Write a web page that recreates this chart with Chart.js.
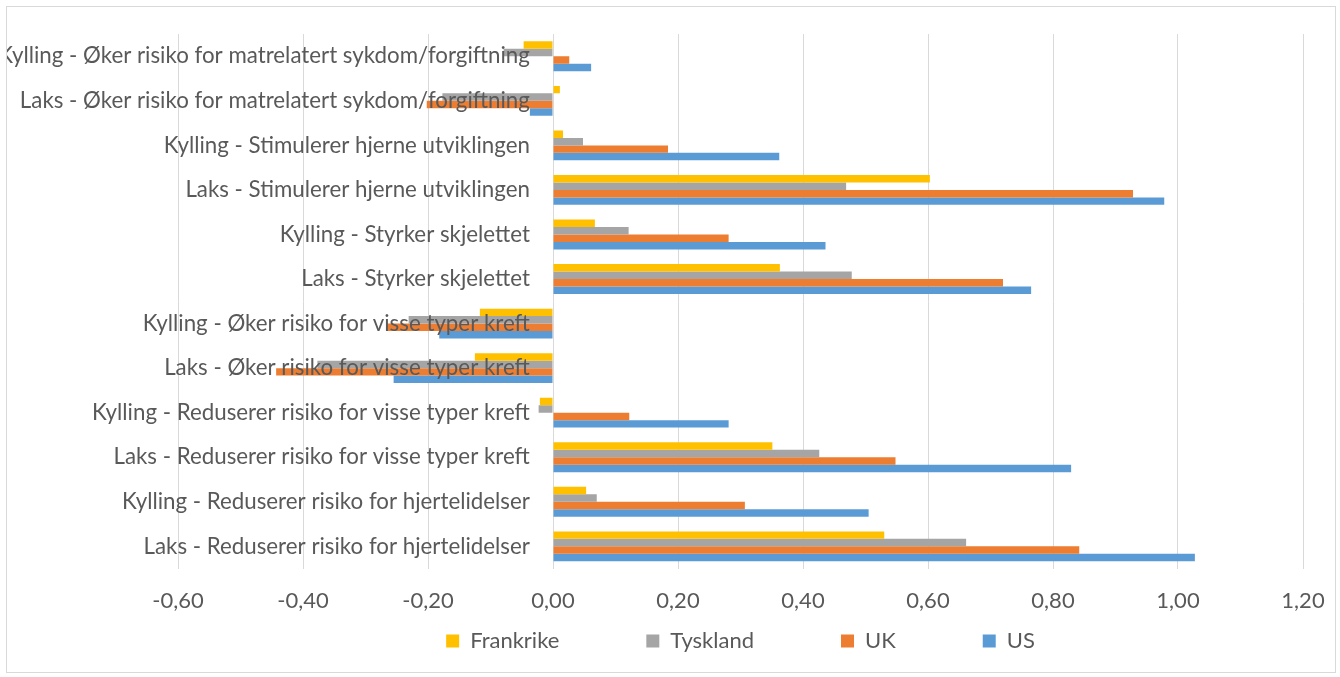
<!DOCTYPE html>
<html lang="no">
<head>
<meta charset="utf-8">
<title>Laks og kylling - helseeffekter</title>
<script src="https://cdn.jsdelivr.net/npm/chart.js@4.4.1/dist/chart.umd.min.js"></script>
<style>
  html, body { margin: 0; padding: 0; background: #fff; }
  #wrap { position: absolute; left: 6px; top: 6px; width: 1328px; height: 665px; border: 1px solid #d9d9d9; }
</style>
</head>
<body>
<div id="wrap"><canvas id="bar-chart" width="1328" height="665"></canvas></div>
<script>
// categories listed top to bottom, as they appear in the chart
var categories = [
  "Kylling - Øker risiko for matrelatert sykdom/forgiftning",
  "Laks - Øker risiko for matrelatert sykdom/forgiftning",
  "Kylling - Stimulerer hjerne utviklingen",
  "Laks - Stimulerer hjerne utviklingen",
  "Kylling - Styrker skjelettet",
  "Laks - Styrker skjelettet",
  "Kylling - Øker risiko for visse typer kreft",
  "Laks - Øker risiko for visse typer kreft",
  "Kylling - Reduserer risiko for visse typer kreft",
  "Laks - Reduserer risiko for visse typer kreft",
  "Kylling - Reduserer risiko for hjertelidelser",
  "Laks - Reduserer risiko for hjertelidelser"
];
var frankrike = [-0.047, 0.011, 0.016, 0.603, 0.067, 0.363, -0.117, -0.125, -0.021, 0.351, 0.053, 0.530];
var tyskland  = [-0.079, -0.177, 0.048, 0.469, 0.121, 0.478, -0.231, -0.377, -0.023, 0.426, 0.070, 0.661];
var uk        = [0.026, -0.202, 0.184, 0.928, 0.281, 0.720, -0.267, -0.443, 0.122, 0.548, 0.307, 0.842];
var us        = [0.061, -0.037, 0.362, 0.978, 0.436, 0.765, -0.182, -0.255, 0.281, 0.829, 0.505, 1.027];

var xMin = -0.6, xMax = 1.2, xStep = 0.2;

var textColor = "#595959";
var gridColor = "#d9d9d9";
var fontFamily = "Lato, 'Open Sans', sans-serif";

function ds(label, data, color) {
  return {
    label: label,
    data: data,
    backgroundColor: color,
    borderWidth: 0,
    barPercentage: 1.0,
    categoryPercentage: 0.67
  };
}

// legend padding also spaces the items apart; pull the legend back up so the
// extra padding only acts sideways (like Excel's evenly spread legend)
var legendGap = 16;
var legendLift = {
  id: "legendLift",
  afterLayout: function (chart) {
    var lg = chart.legend;
    if (!lg) return;
    lg.top -= lg.options.labels.padding - legendGap;
  }
};

new Chart(document.getElementById("bar-chart"), {
  type: "bar",
  data: {
    labels: categories,
    datasets: [
      ds("Frankrike", frankrike, "#ffc000"),
      ds("Tyskland", tyskland, "#a5a5a5"),
      ds("UK", uk, "#ed7d31"),
      ds("US", us, "#5b9bd5")
    ]
  },
  plugins: [legendLift],
  options: {
    indexAxis: "y",
    responsive: false,
    animation: false,
    layout: { padding: { left: 171, right: 32, top: 27, bottom: 10 } },
    scales: {
      x: {
        min: xMin,
        max: xMax,
        ticks: {
          stepSize: xStep,
          color: textColor,
          font: { family: fontFamily, size: 22 },
          padding: 0,
          maxRotation: 0,
          callback: function (v) { return Number(v).toFixed(2).replace(".", ","); }
        },
        grid: { color: gridColor, drawTicks: true, tickLength: 19, tickColor: "rgba(0,0,0,0)" },
        border: { display: false }
      },
      y: {
        // Excel puts the category labels next to the axis, just left of zero
        position: { x: -0.037 },
        ticks: {
          color: textColor,
          font: { family: fontFamily, size: 22.3 },
          padding: 0,
          autoSkip: false,
          z: 1
        },
        grid: { display: false, drawTicks: false },
        border: { display: false }
      }
    },
    plugins: {
      legend: {
        position: "bottom",
        maxHeight: 48,
        labels: {
          color: textColor,
          font: { family: fontFamily, size: 22 },
          boxWidth: 13,
          boxHeight: 13,
          padding: 87
        }
      },
      tooltip: { enabled: false }
    }
  }
});
</script>
</body>
</html>
